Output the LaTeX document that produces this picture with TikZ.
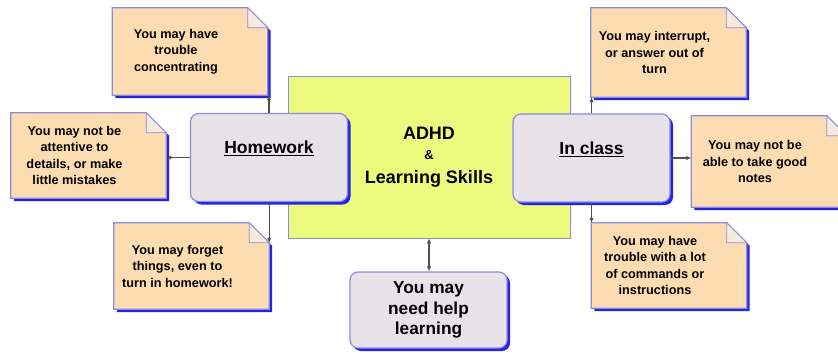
\documentclass[tikz,border=0pt]{standalone}
\usepackage{fontspec}
\setmainfont{Liberation Sans}
\usetikzlibrary{arrows.meta,shadows}

\definecolor{notefill}{RGB}{254,220,178}
\definecolor{foldfill}{RGB}{246,234,220}
\definecolor{edgeblue}{RGB}{138,138,226}
\definecolor{shadeblue}{RGB}{36,36,226}
\definecolor{boxgray}{RGB}{231,227,233}
\definecolor{hubyellow}{RGB}{236,250,126}
\definecolor{linkgray}{RGB}{80,80,80}

\tikzset{
  hubbox/.style={draw=edgeblue, line width=0.8pt, fill=hubyellow, minimum width=282, minimum height=162, inner sep=0, font=\bfseries\fontsize{18}{22}\selectfont, align=center},
  topicbox/.style={draw=edgeblue, line width=1.2pt, fill=boxgray, rounded corners=8pt, minimum width=157, minimum height=88, inner sep=0, font=\bfseries\fontsize{17.5}{20.5}\selectfont, align=center, drop shadow={shadow xshift=3pt, shadow yshift=-3pt, fill=shadeblue, opacity=1}},
  notebase/.style={minimum width=155, inner sep=0},
  notetext/.style={font=\bfseries\fontsize{12.7}{16.5}\selectfont, align=center, inner sep=0},
  link/.style={draw=linkgray, line width=1.2pt, -{Latex[length=5pt,width=4.5pt]}},
}

% note paper with a folded corner, drawn round node #1
\newcommand{\dogear}[1]{%
  \fill[shadeblue] ([shift={(3,3)}]#1.south west) -- ([shift={(3,3)}]#1.north west) -- ([shift={(-17,3)}]#1.north east) -- ([shift={(3,23)}]#1.north east) -- ([shift={(3,3)}]#1.south east) -- cycle;
  \filldraw[draw=edgeblue, line width=1.2pt, fill=notefill] (#1.south west) -- (#1.north west) -- ([shift={(-20,0)}]#1.north east) -- ([shift={(0,20)}]#1.north east) -- (#1.south east) -- cycle;
  \filldraw[draw=edgeblue, line width=0.8pt, fill=foldfill] ([shift={(-20,0)}]#1.north east) -- ([shift={(-20,20)}]#1.north east) -- ([shift={(0,20)}]#1.north east) -- cycle;
}

\begin{document}
\begin{tikzpicture}[x=1pt, y=-1pt]
  \useasboundingbox (0,0) rectangle (838,356);
  \clip (0,0) rectangle (838,356);

  % centre
  \node[hubbox] (hub) at (429,157) {ADHD\\[-2pt]{\fontsize{13}{22}\selectfont\&}\\[2pt]Learning Skills};

  % topics
  \node[topicbox, text depth=20pt] (homework) at (269,157.5) {\underline{Homework}};
  \node[topicbox, text depth=20pt] (inclass) at (591.5,158) {\underline{In class}};
  \node[topicbox, minimum height=76, font=\bfseries\fontsize{17.3}{20.5}\selectfont] (help) at (428.5,310) {You may\\need help\\learning};

  % notes
  \foreach \nm/\cx/\cy/\nh/\txt in {
    conc/190/51.5/87/{You may have\\trouble\\concentrating},
    attn/88.5/155.5/85/{You may not be\\attentive to\\details, or make\\little mistakes},
    forget/191.5/266/86/{You may forget\\things, even to\\turn in homework!},
    interr/668.5/52.5/89/{You may interrupt,\\or answer out of\\turn},
    notes/769/161.5/91/{You may not be\\able to take good\\notes},
    cmds/669/265.5/85/{You may have\\trouble with a lot\\of commands or\\instructions}} {
    \node[notebase, minimum height=\nh] (\nm) at (\cx,\cy) {};
    \dogear{\nm}
    \node[notetext] (\nm txt) at ([xshift=-14pt]\nm.center) {\txt};
  }

  % links
  \coordinate (forgetear) at ([shift={(0,20)}]forget.north east);
  \draw[link] (homework.north) -- (homework.north |- conc.south);
  \draw[link] (homework.west) -- (homework.west -| attn.east);
  \draw[link] (homework.south -| forgetear) -- (forgetear);
  \draw[link] (inclass.north) -- (inclass.north |- interr.south);
  \draw[link] (inclass.east) -- (inclass.east -| notes.west);
  \draw[link] (inclass.south) -- (inclass.south |- cmds.north);
  \draw[link, {Latex[length=5pt,width=4.5pt]}-{Latex[length=5pt,width=4.5pt]}] (hub.south) -- (hub.south |- help.north);
\end{tikzpicture}
\end{document}
